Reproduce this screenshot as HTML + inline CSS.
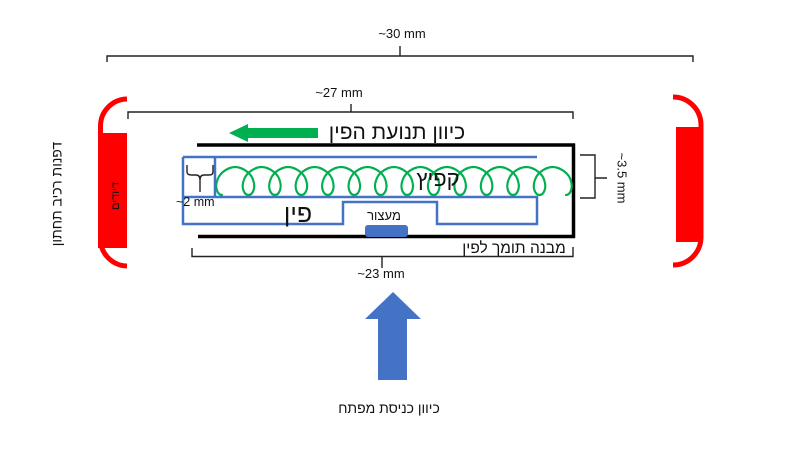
<!DOCTYPE html>
<html>
<head>
<meta charset="utf-8">
<style>
  html,body{margin:0;padding:0;background:#fff;}
  svg{display:block;}
  text{font-family:"Liberation Sans","DejaVu Sans",sans-serif;fill:#111;}
</style>
</head>
<body>
<svg width="800" height="450" viewBox="0 0 800 450" xmlns="http://www.w3.org/2000/svg">
  <defs>
    <path id="coil" fill="none" stroke="#00B050" stroke-width="2.2" stroke-linecap="round"
      d="M0,195 C-1.9,195 -3.8,193.5 -4.9,191 C-6,188.5 -6.2,185 -5.2,181.5 C-4.2,178 -2.2,174.5 0.9,172 C4.4,169.3 8.9,167 13.5,167 C18,167 22.5,169.3 26,172 C29.3,174.5 31.4,178 32.2,181.5 C33.2,185 33,188.5 31.9,191 C30.8,193.5 28.9,195 27,195"/>
  </defs>

  <!-- ~30 mm bracket -->
  <path d="M107,62 L107,56 L693,56 L693,62 M400,56 L400,46" fill="none" stroke="#222" stroke-width="1.4"/>
  <text x="402" y="38" font-size="13" text-anchor="middle">~30 mm</text>

  <!-- ~27 mm bracket -->
  <path d="M128,119 L128,112 L573,112 L573,119 M351,112 L351,104" fill="none" stroke="#222" stroke-width="1.4"/>
  <text x="339" y="97" font-size="13" text-anchor="middle">~27 mm</text>

  <!-- green arrow + title -->
  <polygon points="229,133 248,124 248,128 318,128 318,138 248,138 248,142" fill="#00B050"/>
  <text x="397" y="139" font-size="21" text-anchor="middle">כיוון תנועת הפין</text>

  <!-- left red part -->
  <path d="M127,99 A27,27 0 0 0 100.5,126 L100.5,240 A27,27 0 0 0 127,266" fill="none" stroke="#FF0000" stroke-width="5"/>
  <rect x="98" y="133" width="29" height="115" fill="#FF0000"/>
  <text transform="translate(116,196) rotate(-90)" font-size="11" text-anchor="middle" dominant-baseline="middle">דיודים</text>

  <!-- right red part -->
  <path d="M673,97 A28,28 0 0 1 701,125 L701,238 A28,28 0 0 1 673,265" fill="none" stroke="#FF0000" stroke-width="5"/>
  <rect x="676" y="127" width="27" height="115" fill="#FF0000"/>

  <!-- left rotated label -->
  <text transform="translate(58,194) rotate(-90)" font-size="14" text-anchor="middle" dominant-baseline="middle">דפנות רכיב תחתון</text>

  <!-- black support structure -->
  <path d="M197,145 L575,145 M573.5,143.5 L573.5,238 M198,236.5 L575,236.5" fill="none" stroke="#000" stroke-width="3.5"/>

  <!-- spring -->
  <g transform="translate(222,0) scale(0.98,1)">
    <use href="#coil" x="0"/>
    <use href="#coil" x="27"/>
    <use href="#coil" x="54"/>
    <use href="#coil" x="81"/>
    <use href="#coil" x="108"/>
    <use href="#coil" x="135"/>
    <use href="#coil" x="162"/>
    <use href="#coil" x="189"/>
    <use href="#coil" x="216"/>
    <use href="#coil" x="243"/>
    <use href="#coil" x="270"/>
    <use href="#coil" x="297"/>
    <use href="#coil" x="324"/>
  </g>

  <!-- blue pin outline -->
  <path d="M183,157 L537,157 M183,157 L183,224 L343,224 L343,202 L437,202 L437,224 L537,224 L537,197 L183,197 M215,157 L215,197"
        fill="none" stroke="#4472C4" stroke-width="2.5" stroke-linejoin="miter"/>

  <!-- ~2mm small bracket -->
  <path d="M187,165 L187,172 Q187,175 192,175 L196,175 Q200,175 200,180 L200,192 M200,180 Q200,175 204,175 L209,175 Q213,175 213,172 L213,165"
        fill="none" stroke="#222" stroke-width="1.4"/>
  <text x="176" y="206" font-size="12.5">~2 mm</text>

  <!-- labels inside -->
  <text x="438" y="186" font-size="22" text-anchor="middle">קפיץ</text>
  <text x="298" y="222" font-size="25" text-anchor="middle">פין</text>
  <text x="384" y="220" font-size="13" text-anchor="middle">מעצור</text>

  <!-- stopper -->
  <rect x="365" y="225" width="43" height="12" rx="3" fill="#4472C4"/>

  <!-- ~3.5mm bracket -->
  <path d="M580,155 L595,155 L595,198 L580,198 M595,178 L607,178" fill="none" stroke="#222" stroke-width="1.4"/>
  <text transform="translate(621,178) rotate(90)" font-size="13" text-anchor="middle" dominant-baseline="middle">~3.5 mm</text>

  <!-- support label -->
  <text x="514" y="253" font-size="15.5" text-anchor="middle">מבנה תומך לפין</text>

  <!-- ~23 mm bracket -->
  <path d="M192,248 L192,256.5 L573,256.5 L573,247 M382,256.5 L382,268" fill="none" stroke="#222" stroke-width="1.4"/>
  <text x="381" y="278" font-size="13" text-anchor="middle">~23 mm</text>

  <!-- blue up arrow -->
  <polygon points="393,292 421,319 407,319 407,380 378,380 378,319 365,319" fill="#4472C4"/>
  <text x="389" y="413" font-size="14" text-anchor="middle">כיוון כניסת מפתח</text>
</svg>
</body>
</html>
